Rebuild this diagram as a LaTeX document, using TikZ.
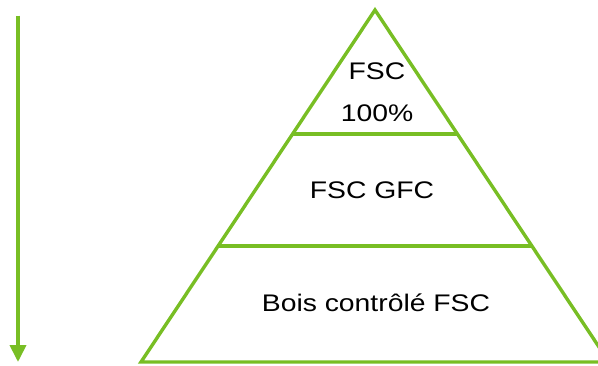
\documentclass[tikz,border=0pt]{standalone}
\usepackage{fontspec}
\setmainfont{Liberation Sans}
\usetikzlibrary{arrows.meta,calc}
\definecolor{fscgreen}{RGB}{120,190,36}
\begin{document}
\begin{tikzpicture}[x=1pt,y=-1pt,
  edge/.style={draw=fscgreen,line width=3.4pt,line join=miter},
  lbl/.style={font=\fontsize{24}{42}\selectfont,align=center,xscale=1.18,transform shape,inner sep=0pt,text=black}]
\useasboundingbox (0,0) rectangle (598,365);
\coordinate (apex) at (375,10);
\coordinate (bl) at (141,362);
\coordinate (br) at (609,362);
\coordinate (l1) at ($(apex)!124/352!(bl)$);
\coordinate (r1) at ($(apex)!124/352!(br)$);
\coordinate (l2) at ($(apex)!236/352!(bl)$);
\coordinate (r2) at ($(apex)!236/352!(br)$);
\draw[edge] (apex) -- (bl) -- (br) -- cycle;
\draw[edge] (l1) -- (r1);
\draw[edge] (l2) -- (r2);
\node[lbl] (t1) at (377,92) {FSC\\100\%};
\node[lbl] (t2) at (372,190) {FSC GFC};
\node[lbl] (t3) at (376,303) {Bois contrôlé FSC};
\coordinate (as) at (18,15.5);
\coordinate (ae) at (18,362);
\draw[fscgreen,line width=3.8pt,-{Triangle[width=16pt,length=17pt]}] (as) -- (ae);
\end{tikzpicture}
\end{document}
